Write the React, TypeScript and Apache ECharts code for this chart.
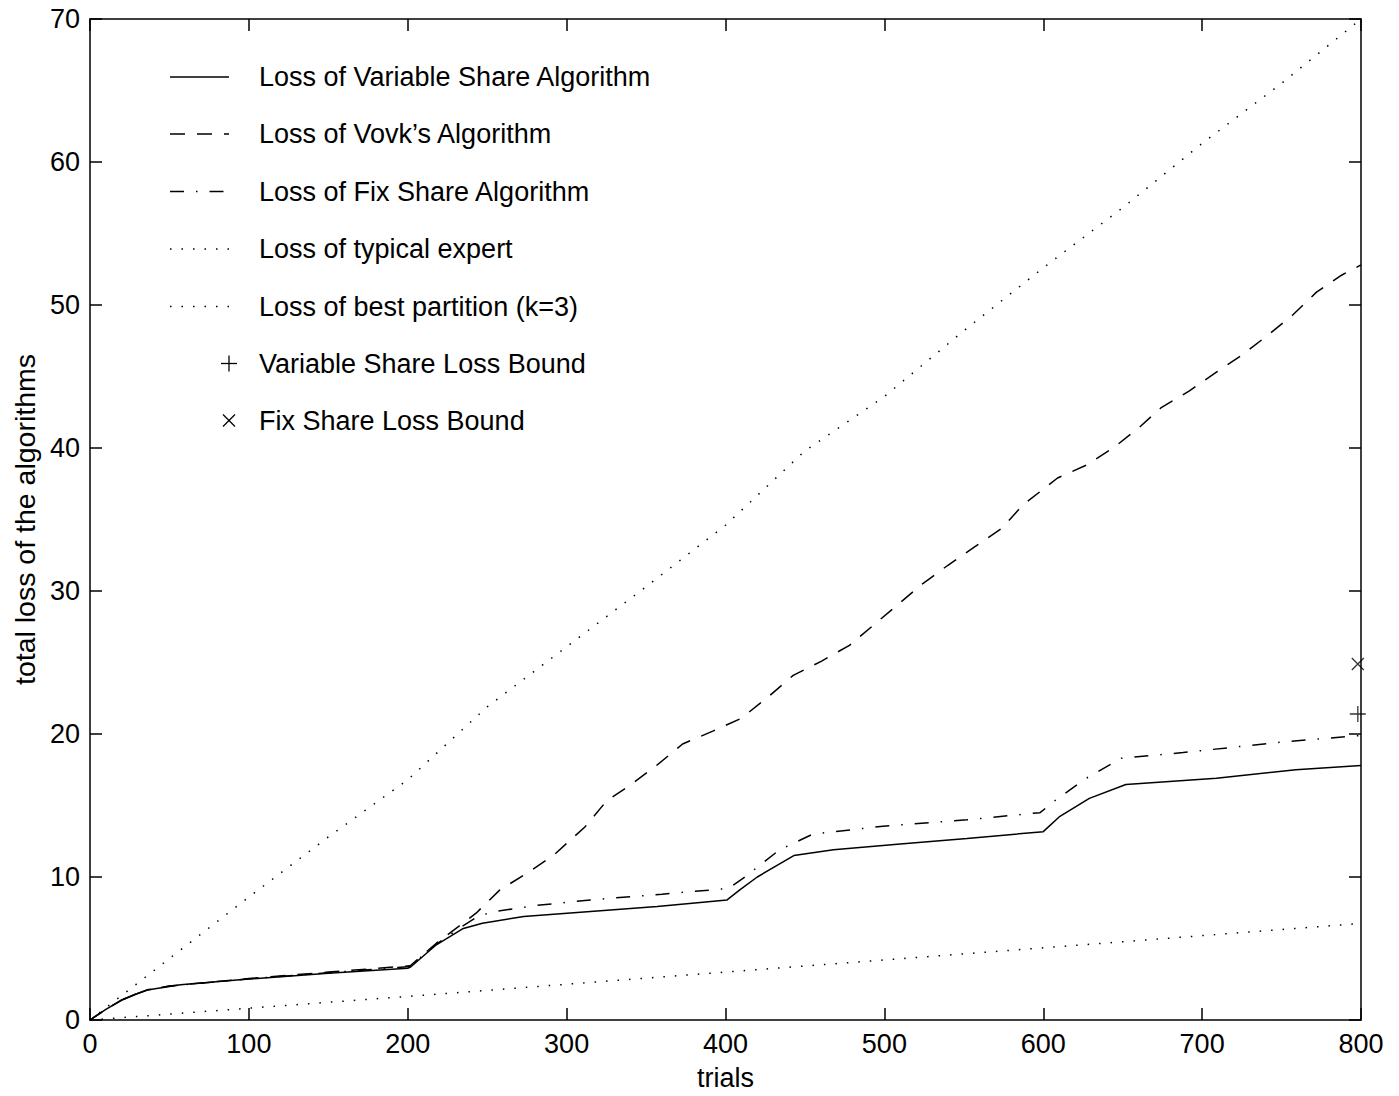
import React, { useEffect, useRef } from "react";
import * as echarts from "echarts";

// ---- data ----
const xTicks = [0, 100, 200, 300, 400, 500, 600, 700, 800];
const yTicks = [0, 10, 20, 30, 40, 50, 60, 70];

const variableShare: [number, number][] = [
  [0, 0], [10, 0.75], [20, 1.4], [30, 1.85], [36, 2.1], [50, 2.35], [57, 2.46], [100, 2.86],
  [150, 3.27], [200, 3.62], [202, 3.72], [218, 5.26], [235, 6.4], [247, 6.77], [273, 7.24],
  [315, 7.59], [357, 7.93], [401, 8.4], [409, 9.1], [420, 10.0], [443, 11.5], [468, 11.9],
  [510, 12.3], [552, 12.7], [600, 13.17], [610, 14.2], [629, 15.5], [652, 16.47], [709, 16.9],
  [759, 17.5], [800, 17.8],
];

const vovk: [number, number][] = [
  [0, 0], [10, 0.75], [20, 1.4], [30, 1.85], [36, 2.1], [50, 2.38], [100, 2.9], [150, 3.35],
  [200, 3.78], [201.4, 3.78], [218, 5.37], [243, 7.47], [258, 9.1], [275, 10.26], [291.6, 11.5],
  [311.5, 13.5], [325, 15.3], [341, 16.5], [356.6, 17.8], [373, 19.3], [392, 20.2], [410, 21.1],
  [428, 22.7], [442.6, 24.1], [460.5, 25.1], [478, 26.2], [493, 27.6], [509, 29.1], [524, 30.5],
  [540, 31.8], [557, 33.1], [574, 34.4], [587, 36.0], [609, 37.9], [627, 38.8], [644, 40.0],
  [660, 41.4], [674, 42.8], [692, 44.0], [709, 45.3], [725, 46.5], [741.5, 47.9], [757, 49.3],
  [772, 50.9], [788, 52.1], [800, 52.8],
];

const fixShare: [number, number][] = [
  [0, 0], [10, 0.75], [20, 1.4], [30, 1.87], [36, 2.12], [50, 2.37], [100, 2.88], [150, 3.3],
  [200, 3.72], [202, 3.82], [218, 5.3], [235, 6.6], [245, 7.3], [256, 7.6], [280, 8.0],
  [315, 8.4], [360, 8.8], [402, 9.2], [411, 9.9], [434, 11.9], [455, 13.0], [499, 13.55],
  [552, 14.0], [598, 14.5], [608, 15.4], [627, 16.9], [649, 18.3], [688, 18.7], [751, 19.45],
  [800, 19.9],
];

const typicalExpert: [number, number][] = [
  [0, 0], [50, 4.3], [100, 8.6], [150, 12.8], [200, 16.8], [250, 21.9], [300, 26.1],
  [350, 30.3], [400, 34.6], [450, 39.8], [500, 43.6], [550, 48.2], [600, 52.6], [650, 56.8],
  [700, 61.3], [750, 65.5], [800, 70],
];

const bestPartition: [number, number][] = [
  [0, 0], [200, 1.65], [400, 3.35], [600, 5.05], [800, 6.75],
];

const variableShareBound: [number, number][] = [[798, 21.4]];
const fixShareBound: [number, number][] = [[798, 24.9]];

const legendLabels = [
  "Loss of Variable Share Algorithm",
  "Loss of Vovk\u2019s Algorithm",
  "Loss of Fix Share Algorithm",
  "Loss of typical expert",
  "Loss of best partition (k=3)",
  "Variable Share Loss Bound",
  "Fix Share Loss Bound",
];

const xName = "trials";
const yName = "total loss of the algorithms";

// ---- styles ----
const FONT = '"Liberation Sans", Arial, Helvetica, sans-serif';
const FS = 27;
const FS_YNAME = 28.5;
const LW = 1.5;
const DASHED = [15, 12];
const DASHDOT = [14, 12, 1.5, 12];
const DOTTED = [1.5, 10];
const PLUS_PATH = "path://M8,0L8,16M0,8L16,8";
const CROSS_PATH = "path://M0,0L12,12M0,12L12,0";

export default function App() {
  const ref = useRef<HTMLDivElement>(null);

  useEffect(() => {
    if (!ref.current) return;
    const chart = echarts.init(ref.current, undefined, { renderer: "svg" });

    const axisCommon = {
      type: "value" as const,
      axisLine: { show: true, onZero: false, lineStyle: { color: "#000", width: LW } },
      axisTick: { show: true, inside: true, length: 12, lineStyle: { color: "#000", width: LW } },
      splitLine: { show: false },
    };

    const legendRowsY = [77, 134, 191.5, 249, 306.5, 363.5, 420.5];
    const sampleX1 = 170;
    const sampleX2 = 229;
    const textX = 259;
    const dashes: (number[] | null)[] = [null, DASHED, DASHDOT, DOTTED, DOTTED];

    const legendEls: any[] = [];
    legendLabels.forEach((label, i) => {
      const y = legendRowsY[i];
      if (i < 5) {
        legendEls.push({
          type: "line",
          shape: { x1: sampleX1, y1: y, x2: sampleX2, y2: y },
          style: { stroke: "#000", lineWidth: LW, lineDash: dashes[i] || undefined },
        });
      } else if (i === 5) {
        legendEls.push(
          { type: "line", shape: { x1: sampleX2 - 8, y1: y, x2: sampleX2 + 8, y2: y }, style: { stroke: "#000", lineWidth: 1.3 } },
          { type: "line", shape: { x1: sampleX2, y1: y - 8, x2: sampleX2, y2: y + 8 }, style: { stroke: "#000", lineWidth: 1.3 } }
        );
      } else {
        legendEls.push(
          { type: "line", shape: { x1: sampleX2 - 6, y1: y - 6, x2: sampleX2 + 6, y2: y + 6 }, style: { stroke: "#000", lineWidth: 1.3 } },
          { type: "line", shape: { x1: sampleX2 - 6, y1: y + 6, x2: sampleX2 + 6, y2: y - 6 }, style: { stroke: "#000", lineWidth: 1.3 } }
        );
      }
      legendEls.push({
        type: "text",
        x: textX,
        y: y,
        style: {
          text: label,
          fill: "#000",
          font: `${FS}px ${FONT}`,
          verticalAlign: "middle",
          align: "left",
        },
      });
    });

    const lineSeries = (name: string, data: [number, number][], dash: number[] | null) => ({
      name,
      type: "line" as const,
      data,
      showSymbol: false,
      symbol: "none",
      lineStyle: { color: "#000", width: LW, type: dash ? dash : "solid" },
      xAxisIndex: 0,
      yAxisIndex: 0,
      z: 3,
    });

    chart.setOption({
      animation: false,
      backgroundColor: "#fff",
      textStyle: { fontFamily: FONT },
      grid: { left: 90, right: 38, top: 19, bottom: 74, containLabel: false },
      xAxis: [
        {
          ...axisCommon,
          position: "bottom",
          min: 0,
          max: 800,
          interval: 100,
          name: xName,
          nameLocation: "middle",
          nameGap: 44,
          nameTextStyle: { color: "#000", fontSize: FS, fontFamily: FONT },
          axisLabel: {
            color: "#000",
            fontSize: FS,
            fontFamily: FONT,
            margin: 10,
            formatter: (v: number) => (xTicks.includes(v) ? String(v) : ""),
          },
        },
        {
          ...axisCommon,
          position: "top",
          min: 0,
          max: 800,
          interval: 100,
          axisLabel: { show: false },
        },
      ],
      yAxis: [
        {
          ...axisCommon,
          position: "left",
          min: 0,
          max: 70,
          interval: 10,
          name: yName,
          nameLocation: "middle",
          nameGap: 41,
          nameRotate: 90,
          nameTextStyle: { color: "#000", fontSize: FS_YNAME, fontFamily: FONT },
          axisLabel: {
            color: "#000",
            fontSize: FS,
            fontFamily: FONT,
            margin: 10,
            formatter: (v: number) => (yTicks.includes(v) ? String(v) : ""),
          },
        },
        {
          ...axisCommon,
          position: "right",
          min: 0,
          max: 70,
          interval: 10,
          axisLabel: { show: false },
        },
      ],
      series: [
        lineSeries("Loss of Variable Share Algorithm", variableShare, null),
        lineSeries("Loss of Vovk's Algorithm", vovk, DASHED),
        lineSeries("Loss of Fix Share Algorithm", fixShare, DASHDOT),
        lineSeries("Loss of typical expert", typicalExpert, DOTTED),
        lineSeries("Loss of best partition (k=3)", bestPartition, DOTTED),
        {
          name: "Variable Share Loss Bound",
          type: "scatter",
          data: variableShareBound,
          symbol: PLUS_PATH,
          symbolSize: 16,
          itemStyle: { color: "none", borderColor: "#000", borderWidth: 1.3 },
          z: 4,
        },
        {
          name: "Fix Share Loss Bound",
          type: "scatter",
          data: fixShareBound,
          symbol: CROSS_PATH,
          symbolSize: 12,
          itemStyle: { color: "none", borderColor: "#000", borderWidth: 1.3 },
          z: 4,
        },
      ],
      graphic: [{ type: "group", children: legendEls }],
    });

    return () => chart.dispose();
  }, []);

  return (
    <div
      ref={ref}
      style={{ position: "absolute", left: 0, top: 0, width: 1399, height: 1096, background: "#fff" }}
    />
  );
}
